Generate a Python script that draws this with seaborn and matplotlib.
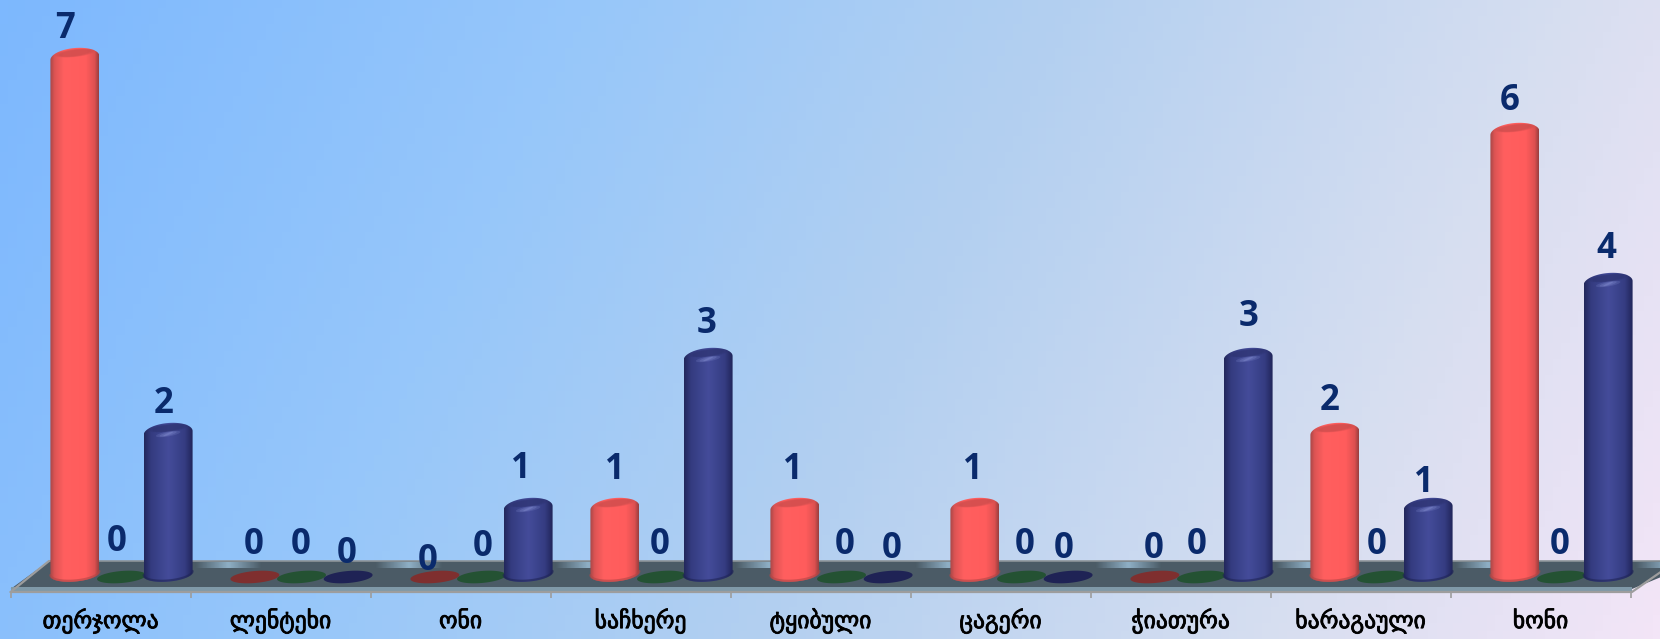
import numpy as np
import pandas as pd
import matplotlib
matplotlib.use("Agg")
import matplotlib.pyplot as plt
import matplotlib.patheffects as pe
from matplotlib.colors import LinearSegmentedColormap
from matplotlib.patches import Polygon
import seaborn as sns

categories = ["თერჯოლა", "ლენტეხი", "ონი", "საჩხერე", "ტყიბული", "ცაგერი", "ჭიათურა", "ხარაგაული", "ხონი"]
red_values = [7, 0, 0, 1, 1, 1, 0, 2, 6]
green_values = [0, 0, 0, 0, 0, 0, 0, 0, 0]
blue_values = [2, 0, 1, 3, 0, 0, 3, 1, 4]
series_names = ["red", "green", "blue"]

# hand nudges for the value labels, in pixels
label_dx = [
    [-10, -1.4, -7, 0, -2, -2, -1.4, -5.4, -5.4],
    [-4.5, -1.3, 1, -1.4, 3, 3, -5, -4.4, -2],
    [-4.6, -1.6, -7, -1.6, 4, -4.6, 0.4, -4.6, -2],
]
label_dy = [
    [23, 32, 16, 32, 32, 32, 28, 26, 26],
    [35, 32, 30, 32, 32, 32, 32, 32, 32],
    [23, 23, 33, 28, 28, 28, 34.5, 19, 28.5],
]

W, H = 1660, 639
BASE_Y = 577      # pixel row of value 0
UNIT = 75         # pixels per unit
CAP_H = 12 / UNIT
TILT = 2 / UNIT

sns.set_theme(style="white")
fig = plt.figure(figsize=(W / 100, H / 100), dpi=100)

# background + floor, axes in pixel coordinates
bg = fig.add_axes([0, 0, 1, 1])
bg_cmap = LinearSegmentedColormap.from_list("bg", [
    (0.0, "#7db8fe"), (0.3, "#97c7fa"), (0.55, "#b4d0f0"), (0.8, "#d6def0"), (1.0, "#f3e5f7")])
xx, yy = np.meshgrid(np.linspace(0, 1, 200), np.linspace(0, 1, 80))
bg.imshow((xx + 0.18 * yy) / 1.18, cmap=bg_cmap, extent=(0, W, H, 0), aspect="auto", vmin=0, vmax=1)
bg.add_patch(Polygon([(10.6, 589), (49, 561), (1700, 561), (1632, 589)], fc="#4b5b66", ec="none"))
bg.add_patch(Polygon([(10.6, 587), (1632, 587), (1632, 592), (10.6, 592)], fc="#7f99a8", ec="none"))
bg.plot([10.6, 1632, 1665], [592, 592, 569], color="#9d9d9d", lw=1.6)
bg.plot([49, 1660], [561, 561], color="#8d9499", lw=1.2)
bg.plot([10.6, 49], [592, 561], color="#9d9d9d", lw=1.6)
shine = LinearSegmentedColormap.from_list("shine", ["#4b5b66", "#8fb0c6", "#4b5b66"])
for k in range(9):
    bg.imshow(np.linspace(0, 1, 50).reshape(1, -1), cmap=shine, aspect="auto",
              extent=(195 + 180 * k, 262 + 180 * k, 568, 562), zorder=2)
bg.set_xlim(0, W)
bg.set_ylim(H, 0)
bg.axis("off")

# category ticks sit on the front edge of the floor
tick_ax = fig.add_axes([10.6 / W, (H - 592) / H, 1620 / W, 0.01])
tick_ax.patch.set_alpha(0)
tick_ax.set_xlim(-0.5, 8.5)
tick_ax.set_xticks(range(9))
tick_ax.set_xticklabels(categories, fontsize=17, color="black", family="DejaVu Sans", va="baseline",
                        path_effects=[pe.withStroke(linewidth=0.6, foreground="black")])
tick_ax.set_xticks(np.arange(-0.5, 9), minor=True)
tick_ax.tick_params(axis="x", which="major", length=0, pad=26)
tick_ax.tick_params(axis="x", which="minor", length=4.5, width=1.2, color="#9d9d9d", bottom=True)
tick_ax.set_yticks([])
sns.despine(ax=tick_ax, left=True, bottom=True)

# the bars are pushed right of the ticks by the 3d perspective
ax = fig.add_axes([31.5 / W, 0, 1620 / W, 1])
ax.patch.set_alpha(0)
df = pd.DataFrame({"district": categories, "red": red_values, "green": green_values, "blue": blue_values})
long_df = df.melt(id_vars="district", var_name="series", value_name="count")
sns.barplot(data=long_df, x="district", y="count", hue="series", hue_order=series_names, order=categories,
            palette=["#ff5c5c", "#245233", "#3d4590"], width=0.777, gap=-0.05, linewidth=0, legend=False,
            ax=ax, zorder=1)


def ellipse_points(cx, cy, w, h, n=60, t0=0, t1=2 * np.pi):
    t = np.linspace(t0, t1, n)
    c = np.cos(t)
    return np.column_stack([cx + w / 2 * c, cy + h / 2 * np.sin(t) + TILT * c])


body_cmaps = [
    LinearSegmentedColormap.from_list("r", [(0, "#a94848"), (0.09, "#dd5454"), (0.28, "#ff5f5f"),
                                            (0.74, "#ff5c5c"), (0.92, "#dd5050"), (1, "#9c4040")]),
    None,
    LinearSegmentedColormap.from_list("b", [(0, "#23285c"), (0.14, "#343b80"), (0.5, "#444c9a"),
                                            (0.84, "#353c82"), (1, "#21265a")]),
]
cap_colors = ["#c94c4c", None, "#2e3472"]
cap_glow = [None, None, "#7a84c8"]
base_edge = ["#b04646", None, "#1f2455"]
flat_colors = ["#7f2f2f", "#245233", "#1f2355"]
gradient = np.linspace(0, 1, 64).reshape(1, -1)
px = 1 / UNIT

for s, container in enumerate(ax.containers):
    for c, bar in enumerate(container):
        x0 = bar.get_x()
        w = bar.get_width()
        v = bar.get_height()
        cx = x0 + w / 2
        bar.set_visible(False)
        if v == 0:
            ax.add_patch(Polygon(ellipse_points(cx, 0, w, CAP_H), fc=flat_colors[s], ec="none", zorder=3))
        else:
            lower = ellipse_points(cx, 3 * px, w, 15 * px, t0=np.pi, t1=2 * np.pi)
            upper = ellipse_points(cx, v - 6 * px, w, 20 * px, t0=0, t1=np.pi)
            outline = Polygon(np.vstack([lower, upper]), transform=ax.transData, fc="none", ec="none")
            ax.add_patch(outline)
            im = ax.imshow(gradient, cmap=body_cmaps[s], aspect="auto", zorder=4,
                           extent=(x0, x0 + w, -0.2, v + 0.2))
            im.set_clip_path(outline)
            # soft dark cap on top, darker rim at the base
            for scale, alpha in [(1.0, 0.25), (0.9, 0.35), (0.78, 0.45)]:
                ax.add_patch(Polygon(ellipse_points(cx, v - 1 * px, w * 0.82 * scale, 8 * px * scale),
                                     fc=cap_colors[s], ec="none", alpha=alpha, zorder=5))
            if cap_glow[s]:
                for scale, alpha in [(1.0, 0.25), (0.7, 0.35), (0.4, 0.5)]:
                    ax.add_patch(Polygon(ellipse_points(cx, v - 7 * px, w * 0.5 * scale, 5 * px * scale),
                                         fc=cap_glow[s], ec="none", alpha=alpha, zorder=6))
            ax.plot(lower[:, 0], lower[:, 1] + 1 * px, color=base_edge[s], lw=1.6, alpha=0.6, zorder=5)
        ax.annotate(str(int(v)), (cx, v), xytext=(label_dx[s][c], label_dy[s][c]), textcoords="offset pixels",
                    ha="center", va="center", fontsize=25, fontweight="bold", family="Open Sans",
                    color="#0a2a6c", zorder=8)

ax.set_xlim(-0.5, 8.5)
ax.set_ylim(-(H - BASE_Y) / UNIT, BASE_Y / UNIT)
ax.axis("off")

fig.savefig("out.png", dpi=100)
plt.close(fig)
